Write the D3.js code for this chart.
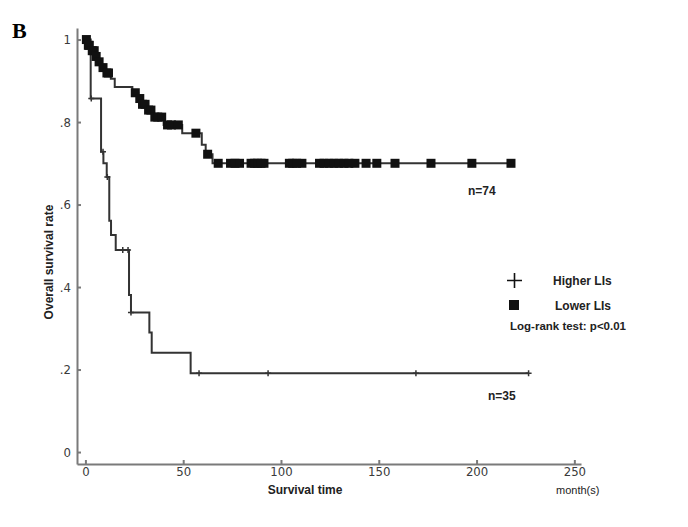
<!DOCTYPE html>
<html>
<head>
<meta charset="utf-8">
<script src="https://cdn.jsdelivr.net/npm/d3@7"></script>
<style>
  body { margin: 0; background: #fff; }
  .axis path, .axis line { stroke: #7a7a7a; stroke-width: 2; }
  .axis text { font-family: "Liberation Sans Narrow", "DejaVu Sans Condensed", sans-serif; font-size: 13px; fill: #3a3a3a; }
  .lab { font-family: "Liberation Sans", Arial, sans-serif; font-weight: bold; font-size: 12px; fill: #222; }
</style>
</head>
<body>
<div id="chart"></div>
<script>
// Lower LIs (n=74): step times (months) and survival after each step
var lowTimes = [0, 1, 3, 5, 6.5, 8, 10.5, 13, 15, 24, 27, 28.5, 31, 34.5, 40, 49.5, 59.5, 61.5, 65];
var lowSurv  = [1, .986, .973, .959, .946, .932, .919, .905, .885, .871, .857, .843, .829, .812, .793, .773, .745, .722, .70];
var lowEnd = 217.6;
// censored cases (squares)
var lowCensT = [0.5, 1.5, 2, 3.5, 4.5, 5.5, 7, 9, 11, 11.8, 25.5, 27.8, 29.2, 30.5, 32.3, 33.5,
  35.5, 37, 39, 42, 44, 47.5, 56.5, 62.5,
  67.9, 74.2, 76.5, 78.8, 84.7, 86.5, 88, 89.8, 91.3, 104.3, 106, 108, 110.7,
  119.7, 122, 124.6, 127.1, 129.6, 132.2, 134.7, 137.8, 143.5, 149, 158.3, 176.7, 197.6, 217.6];

// Higher LIs (n=35)
var highTimes = [0, 2.7, 8.0, 9.2, 10.9, 12.2, 13.1, 15.5, 22.3, 23.3, 32.7, 33.9, 53.8];
var highSurv  = [1, .857, .728, .700, .667, .561, .526, .490, .381, .338, .290, .241, .191];
var highEnd = 226.6;
var highCensT = [3.0, 9.0, 11.2, 19.1, 21.8, 23.3, 58.1, 93.4, 169, 226.6];

var xTicks = [0, 50, 100, 150, 200, 250];
var yTicks = [0, .2, .4, .6, .8, 1];

var W = 688, H = 527;
var svg = d3.select("#chart").append("svg")
    .attr("width", W).attr("height", H);

var x = d3.scaleLinear().domain([-4.3, 253.4]).range([77, 581]);
var y = d3.scaleLinear().domain([-0.029, 1.028]).range([464, 28]);

function stepAt(times, surv, t) {
  var s = surv[0];
  for (var i = 0; i < times.length; i++) { if (times[i] <= t) s = surv[i]; }
  return s;
}

// axes
svg.append("g").attr("class", "axis")
    .attr("transform", "translate(0," + 464 + ")")
    .call(d3.axisBottom(x).tickValues(xTicks).tickSizeInner(-4).tickSizeOuter(0).tickPadding(3)
      .tickFormat(d3.format("d")));

svg.append("g").attr("class", "axis")
    .attr("transform", "translate(77,0)")
    .call(d3.axisLeft(y).tickValues(yTicks).tickSizeInner(-4).tickSizeOuter(0).tickPadding(6)
      .tickFormat(function(d) { return d === 0 ? "0" : d === 1 ? "1" : String(d).replace(/^0/, ""); }));

var line = d3.line()
    .x(function(d) { return x(d[0]); })
    .y(function(d) { return y(d[1]); })
    .curve(d3.curveStepAfter);

var lowPts = lowTimes.map(function(t, i) { return [t, lowSurv[i]]; });
lowPts.push([lowEnd, lowSurv[lowSurv.length - 1]]);
var highPts = highTimes.map(function(t, i) { return [t, highSurv[i]]; });
highPts.push([highEnd, highSurv[highSurv.length - 1]]);

svg.append("path").datum(highPts)
    .attr("fill", "none").attr("stroke", "#333").attr("stroke-width", 2)
    .attr("d", line);
svg.append("path").datum(lowPts)
    .attr("fill", "none").attr("stroke", "#333").attr("stroke-width", 2)
    .attr("d", line);

// censor marks, higher LIs: small plus
svg.selectAll(".hc").data(highCensT).enter().append("path")
    .attr("class", "hc")
    .attr("d", function(t) {
      var cx = x(t), cy = y(stepAt(highTimes, highSurv, t));
      return "M" + (cx - 3) + "," + cy + "H" + (cx + 3) + "M" + cx + "," + (cy - 3) + "V" + (cy + 3);
    })
    .attr("stroke", "#333").attr("stroke-width", 1.5);

// censor marks, lower LIs: squares
svg.selectAll(".lc").data(lowCensT).enter().append("rect")
    .attr("class", "lc")
    .attr("x", function(t) { return x(t) - 4.5; })
    .attr("y", function(t) { return y(stepAt(lowTimes, lowSurv, t)) - 4.5; })
    .attr("width", 9).attr("height", 9)
    .attr("fill", "#111");

// labels
svg.append("text").attr("x", 12).attr("y", 38)
    .style("font-family", "Liberation Serif, Times New Roman, serif")
    .style("font-weight", "bold").style("font-size", "22px").text("B");

svg.append("text").attr("class", "lab")
    .attr("transform", "translate(53,262) rotate(-90)")
    .attr("text-anchor", "middle").text("Overall survival rate");

svg.append("text").attr("class", "lab")
    .attr("x", 305).attr("y", 494).attr("text-anchor", "middle").text("Survival time");

svg.append("text").attr("x", 556).attr("y", 494)
    .style("font-family", "Liberation Sans, Arial, sans-serif").style("font-size", "11px")
    .style("fill", "#222").text("month(s)");

svg.append("text").attr("class", "lab").attr("x", 468).attr("y", 195).text("n=74");
svg.append("text").attr("class", "lab").attr("x", 488).attr("y", 400).text("n=35");

// legend
svg.append("path")
    .attr("d", "M507,280.5H522M514.5,273V288")
    .attr("stroke", "#111").attr("stroke-width", 1.6);
svg.append("rect").attr("x", 509).attr("y", 300).attr("width", 10).attr("height", 10).attr("fill", "#111");
svg.append("text").attr("class", "lab").attr("x", 553).attr("y", 285).text("Higher LIs");
svg.append("text").attr("class", "lab").attr("x", 555).attr("y", 310).text("Lower LIs");
svg.append("text").attr("class", "lab").attr("x", 510).attr("y", 330).style("font-size", "11.5px")
    .text("Log-rank test: p<0.01");
</script>
</body>
</html>
